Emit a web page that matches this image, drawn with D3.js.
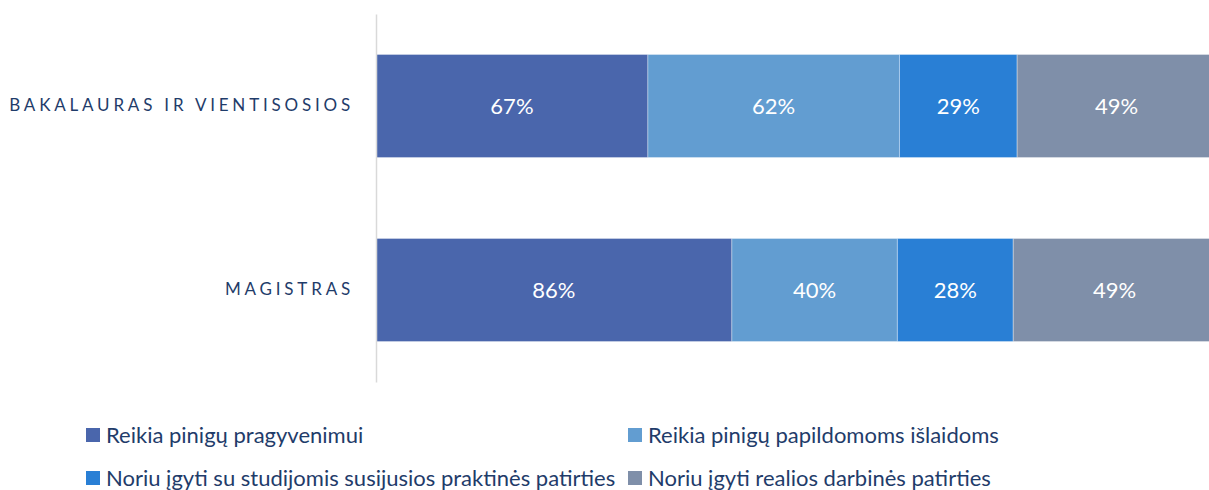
<!DOCTYPE html>
<html>
<head>
<meta charset="utf-8">
<script src="https://cdn.jsdelivr.net/npm/d3@7"></script>
<style>
  body { margin: 0; background: #fff; }
  svg { display: block; font-family: Lato, "Open Sans", sans-serif; }
</style>
</head>
<body>
<div id="chart"></div>
<script>
var svgWidth = 1209;
var svgHeight = 490;

// data
var categories = ["BAKALAURAS IR VIENTISOSIOS", "MAGISTRAS"];
var seriesNames = [
  "Reikia pinigų pragyvenimui",
  "Reikia pinigų papildomoms išlaidoms",
  "Noriu įgyti su studijomis susijusios praktinės patirties",
  "Noriu įgyti realios darbinės patirties"
];
var pragyvenimui = [67, 86];
var papildomoms = [62, 40];
var praktines = [29, 28];
var darbines = [49, 49];
var colors = ["#4a66ac", "#629dd1", "#297fd5", "#7f8fa9"];

var seriesValues = [pragyvenimui, papildomoms, praktines, darbines];

// rows for the stack
var rows = categories.map(function(c, i) {
  var r = { cat: c };
  seriesNames.forEach(function(s, j) { r[s] = seriesValues[j][i]; });
  return r;
});

var stack = d3.stack()
  .keys(seriesNames)
  .offset(d3.stackOffsetExpand);
var stacked = stack(rows);

var svg = d3.select("#chart")
  .append("svg")
  .attr("width", svgWidth)
  .attr("height", svgHeight);

var x = d3.scaleLinear()
  .domain([0, 1])
  .range([376, 1216]);

var y = d3.scaleBand()
  .domain(categories)
  .range([14, 382])
  .paddingInner(0.44)
  .paddingOuter(0.22);

// bars
var layers = svg.append("g")
  .selectAll("g")
  .data(stacked)
  .enter()
  .append("g")
  .attr("fill", (d, i) => colors[i]);

layers.selectAll("rect")
  .data(d => d)
  .enter()
  .append("rect")
  .attr("x", d => x(d[0]))
  .attr("y", d => y(d.data.cat))
  .attr("width", d => x(d[1]) - x(d[0]))
  .attr("height", y.bandwidth())
  .attr("stroke", "#ffffff")
  .attr("stroke-opacity", 0.35)
  .attr("stroke-width", 1);

// value labels
layers.each(function(layer) {
  d3.select(this).selectAll("text")
    .data(layer)
    .enter()
    .append("text")
    .attr("x", d => (x(d[0]) + x(d[1])) / 2)
    .attr("y", d => y(d.data.cat) + y.bandwidth() / 2)
    .attr("dy", "0.35em")
    .attr("text-anchor", "middle")
    .attr("fill", "#ffffff")
    .attr("font-size", "22px")
    .text(d => d.data[layer.key] + "%");
});

// category axis
var leftAxis = d3.axisLeft(y).tickSize(0).tickPadding(22);
var yAxis = svg.append("g")
  .attr("transform", "translate(376,0)")
  .call(leftAxis);
yAxis.select(".domain").attr("stroke", "#d9d9d9").attr("stroke-width", 1.5);
yAxis.selectAll("text")
  .attr("font-size", "17px")
  .attr("font-family", "Lato, sans-serif")
  .attr("fill", "#1f3c6a")
  .style("letter-spacing", "3.8px");

// legend
var legendPos = [[86, 435], [628, 435], [86, 478], [628, 478]];
var legend = svg.append("g")
  .selectAll("g")
  .data(seriesNames)
  .enter()
  .append("g")
  .attr("transform", (d, i) => `translate(${legendPos[i][0]}, ${legendPos[i][1]})`);

legend.append("rect")
  .attr("x", 0)
  .attr("y", -7)
  .attr("width", 14)
  .attr("height", 14)
  .attr("fill", (d, i) => colors[i]);

legend.append("text")
  .attr("x", 20)
  .attr("y", 0)
  .attr("dy", "0.35em")
  .attr("font-size", "22px")
  .attr("fill", "#1f3c6a")
  .text(d => d);
</script>
</body>
</html>
